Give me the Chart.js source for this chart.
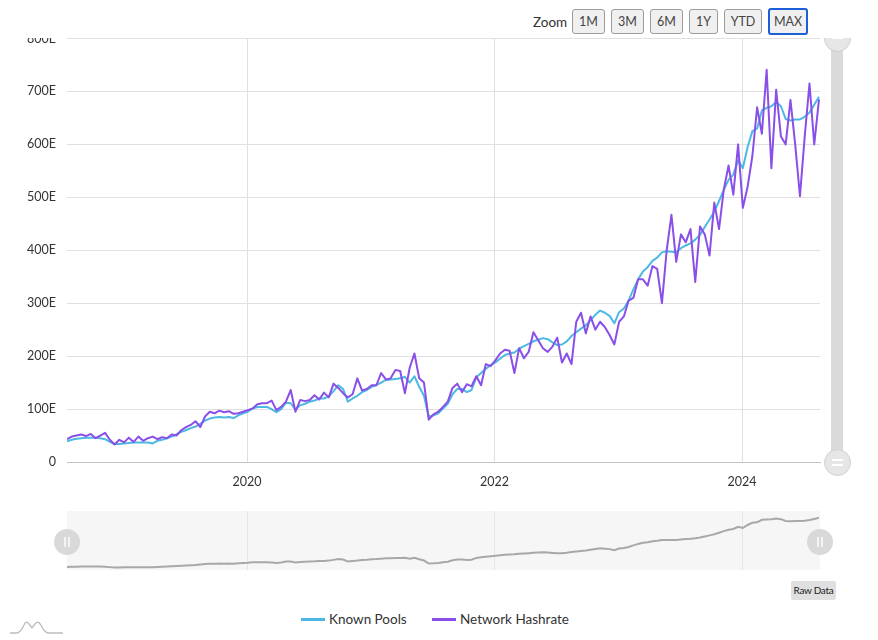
<!DOCTYPE html>
<html>
<head>
<meta charset="utf-8">
<script src="https://cdn.jsdelivr.net/npm/chart.js@4.4.1/dist/chart.umd.min.js"></script>
<style>
  body { margin: 0; width: 878px; height: 640px; position: relative; overflow: hidden; background: #fff; font-family: Lato, sans-serif; color: #333; }
  .abs { position: absolute; }
  #zoomLabel { left: 533px; top: 14px; font-size: 13.5px; line-height: 17px; color: #333; }
  .zbtn { position: absolute; top: 9px; height: 23px; box-sizing: content-box; background: #f0f0f0; border: 1px solid #9c9c9c; border-radius: 3px; font-size: 12.5px; line-height: 23px; text-align: center; color: #444; }
  .zbtn.active { border: 2px solid #1d5fd8; top: 8px; line-height: 23px; }
  #mainClip { left: 0; top: 38px; width: 878px; height: 470px; overflow: hidden; }
  #mainChart { position: absolute; left: 0; top: -18px; }
  #scrollTrack { left: 831px; top: 0; width: 12px; height: 424px; background: #dadada; }
  .knob { position: absolute; width: 25px; height: 25px; border-radius: 50%; background: #e6e6e6; border: 1px solid #cfcfcf; }
  .knob .bar { position: absolute; left: 7px; width: 11px; height: 2px; background: #fff; }
  #navChart { position: absolute; left: 0; top: 504px; }
  .navKnob { position: absolute; width: 26px; height: 26px; border-radius: 50%; background: #d9d9d9; }
  .navKnob .bar { position: absolute; top: 8px; width: 2px; height: 10px; background: #f4f4f4; }
  #rawData { left: 791px; top: 581px; width: 45px; height: 19px; background: #e0e0e0; border-radius: 2px; font-size: 10px; line-height: 19px; text-align: center; letter-spacing: -0.3px; color: #222; }
  .legItem { position: absolute; top: 611px; height: 17px; font-size: 13.5px; line-height: 17px; color: #333; }
  .legSwatch { position: absolute; top: 7px; left: 0; width: 24px; height: 3px; }
  .legText { position: absolute; left: 28px; top: 0; white-space: nowrap; }
</style>
</head>
<body>

<div id="zoomLabel" class="abs">Zoom</div>
<div class="zbtn" style="left:572px;width:31px;">1M</div>
<div class="zbtn" style="left:611px;width:31px;">3M</div>
<div class="zbtn" style="left:650px;width:31px;">6M</div>
<div class="zbtn" style="left:689px;width:27px;">1Y</div>
<div class="zbtn" style="left:724px;width:36px;">YTD</div>
<div class="zbtn active" style="left:768px;width:36px;">MAX</div>

<div id="mainClip" class="abs">
  <canvas id="mainChart" width="878" height="480" style="width:878px;height:480px;"></canvas>
  <div id="scrollTrack" class="abs"></div>
  <div class="knob" style="left:824px;top:-13px;"><div class="bar" style="top:11px;"></div></div>
  <div class="knob" style="left:824px;top:411px;"><div class="bar" style="top:9px;"></div><div class="bar" style="top:14px;"></div></div>
</div>

<canvas id="navChart" width="878" height="71" style="width:878px;height:71px;"></canvas>
<div class="navKnob" style="left:54px;top:529px;"><div class="bar" style="left:10px;"></div><div class="bar" style="left:14px;"></div></div>
<div class="navKnob" style="left:807px;top:529px;"><div class="bar" style="left:10px;"></div><div class="bar" style="left:14px;"></div></div>

<div id="rawData" class="abs">Raw Data</div>

<div class="legItem" style="left:301px;"><div class="legSwatch" style="background:#4cb9e4;"></div><div class="legText" id="leg0"></div></div>
<div class="legItem" style="left:432px;"><div class="legSwatch" style="background:#8a4fe8;"></div><div class="legText" id="leg1"></div></div>

<svg class="abs" style="left:8px;top:619px;" width="56" height="16" viewBox="0 0 56 16">
  <path d="M2 14 L9 14 Q13 13 16 6 Q18 1 21 5 L24 9 L27 5 Q30 1 33 6 Q36 13 40 14 L55 14" fill="none" stroke="#bdbdbd" stroke-width="1.3"/>
</svg>

<script>
// ------------------------
// DATA (one point every two weeks)
// ------------------------
const startYear = 2018.545;
const stepYears = 1 / 26;
const endYear = 2024.63;
const yearTicks = [2020, 2022, 2024];
const hashTicks = [0, 100, 200, 300, 400, 500, 600, 700, 800];
const seriesNames = ['Known Pools', 'Network Hashrate'];

const knownPools = [
  39, 42, 44, 45, 46, 46, 46, 45, 43, 38,
  34, 34, 35, 36, 37, 37, 37, 37, 35, 40,
  42, 45, 48, 52, 57, 60, 64, 67, 72, 78,
  82, 84, 85, 84, 85, 83, 88, 92, 95, 101,
  104, 104, 104, 100, 94, 100, 112, 111, 99, 107,
  110, 114, 116, 120, 120, 124, 134, 145, 138, 114,
  120, 125, 132, 136, 142, 145, 150, 155, 156, 157,
  158, 161, 150, 162, 142, 125, 86, 88, 92, 101,
  110, 128, 138, 138, 132, 136, 160, 168, 176, 183,
  188, 195, 202, 205, 207, 214, 219, 223, 228, 231,
  234, 232, 226, 221, 222, 228, 238, 245, 252, 258,
  268, 278, 286, 282, 276, 262, 283, 290, 305, 326,
  345, 360, 368, 380, 386, 396, 398, 397, 396, 404,
  409, 413, 420, 429, 444, 458, 473, 493, 514, 533,
  543, 570, 555, 595, 625, 630, 664, 669, 672, 680,
  672, 648, 645, 647, 647, 652, 660, 675, 690
];

const networkHashrate = [
  43, 48, 50, 52, 49, 53, 45, 50, 55, 42,
  33, 42, 37, 46, 38, 48, 40, 45, 48, 43,
  47, 45, 52, 50, 60, 66, 70, 77, 66, 86,
  95, 92, 97, 94, 96, 91, 92, 95, 98, 101,
  109, 111, 111, 116, 98, 104, 114, 136, 95, 117,
  115, 117, 126, 118, 131, 122, 148, 140, 130, 122,
  128, 158, 135, 138, 145, 145, 168, 156, 158, 174,
  172, 130, 178, 205, 158, 150, 80, 90, 95, 104,
  114, 140, 148, 132, 147, 143, 162, 145, 185, 181,
  192, 205, 212, 210, 168, 215, 196, 208, 245, 230,
  215, 208, 218, 235, 188, 205, 185, 265, 282, 243,
  275, 250, 265, 255, 240, 222, 265, 275, 305, 310,
  345, 345, 333, 370, 365, 300, 400, 467, 378, 430,
  415, 440, 340, 445, 430, 390, 490, 440, 515, 560,
  505, 600, 480, 520, 578, 670, 620, 741, 555, 703,
  615, 600, 684, 600, 502, 615, 715, 600, 685
];

const BLUE = '#4cb9e4';
const PURPLE = '#8a4fe8';

Chart.defaults.font.family = 'Lato, sans-serif';

const xs = knownPools.map((_, i) => startYear + i * stepYears);
const toPoints = arr => arr.map((v, i) => ({ x: xs[i], y: v }));

document.getElementById('leg0').textContent = seriesNames[0];
document.getElementById('leg1').textContent = seriesNames[1];

// ------------------------
// MAIN CHART
// ------------------------
new Chart(document.getElementById('mainChart'), {
  type: 'line',
  data: {
    datasets: [
      { label: seriesNames[0], data: toPoints(knownPools), borderColor: BLUE, borderWidth: 2, pointRadius: 0, tension: 0, order: 1 },
      { label: seriesNames[1], data: toPoints(networkHashrate), borderColor: PURPLE, borderWidth: 2, pointRadius: 0, tension: 0, order: 0 }
    ]
  },
  options: {
    responsive: false,
    animation: false,
    borderJoinStyle: 'round',
    layout: { padding: { left: 0, right: 58, top: 0, bottom: 0 } },
    plugins: { legend: { display: false }, tooltip: { enabled: false } },
    scales: {
      x: {
        type: 'linear', min: startYear, max: endYear,
        afterBuildTicks: s => { s.ticks = yearTicks.map(v => ({ value: v })); },
        afterFit: s => { s.height = 38; },
        grid: { color: '#e0e0e0', drawTicks: false },
        border: { color: '#c4c4c4' },
        ticks: { padding: 12, color: '#333', font: { size: 12.5 }, maxRotation: 0, callback: v => String(v) }
      },
      y: {
        min: 0, max: 800,
        afterBuildTicks: s => { s.ticks = hashTicks.map(v => ({ value: v })); },
        afterFit: s => { s.width = 67; },
        grid: { color: '#e0e0e0', drawTicks: false },
        border: { display: false },
        ticks: { padding: 11, color: '#333', font: { size: 12.5 }, callback: v => v === 0 ? '0' : v + 'E' }
      }
    }
  }
});

// ------------------------
// NAVIGATOR
// ------------------------
const navBackground = {
  id: 'navBackground',
  beforeDraw(chart) {
    const a = chart.chartArea, ctx = chart.ctx;
    ctx.save();
    ctx.fillStyle = '#f6f6f6';
    ctx.fillRect(a.left, a.top, a.right - a.left, a.bottom - a.top);
    ctx.restore();
  }
};

new Chart(document.getElementById('navChart'), {
  type: 'line',
  data: {
    datasets: [
      { label: seriesNames[0], data: toPoints(knownPools), borderColor: '#a8a8a8', borderWidth: 2, pointRadius: 0, tension: 0 }
    ]
  },
  options: {
    responsive: false,
    animation: false,
    layout: { padding: { left: 67, right: 58, top: 7, bottom: 5 } },
    plugins: { legend: { display: false }, tooltip: { enabled: false } },
    scales: {
      x: {
        type: 'linear', min: startYear, max: endYear,
        afterBuildTicks: s => { s.ticks = yearTicks.map(v => ({ value: v })); },
        afterFit: s => { s.height = 0; },
        grid: { color: '#e6e6e6', drawTicks: false },
        border: { display: false },
        ticks: { padding: -26, color: '#888', font: { size: 12.5 }, maxRotation: 0, callback: v => String(v) }
      },
      y: { display: false, min: 0, max: 780 }
    }
  },
  plugins: [navBackground]
});
</script>
</body>
</html>
